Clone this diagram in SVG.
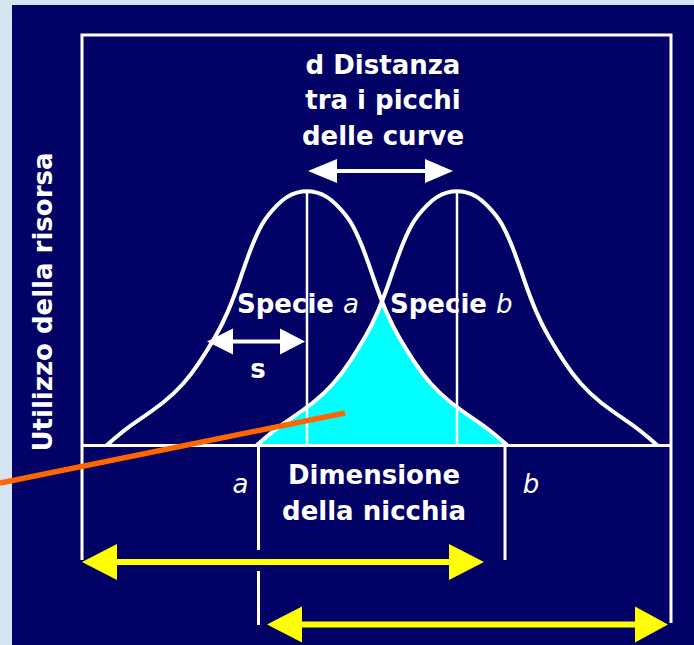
<svg xmlns="http://www.w3.org/2000/svg" width="694" height="645" viewBox="0 0 694 645">
<style>
.t{font-family:"DejaVu Sans",Verdana,sans-serif;font-weight:bold;font-size:26px;fill:#fff}
.it{font-style:italic;font-weight:normal}
.ln{stroke:#fff;stroke-width:3;fill:none}
.thin{stroke:#fff;stroke-width:2.5;fill:none}
.curve{stroke:#fff;stroke-width:4;fill:none;stroke-linejoin:round;stroke-linecap:round}
.wa{fill:#fff}
.ya{fill:#ffff00}
.ys{stroke:#ffff00;stroke-width:6;fill:none}
.ws{stroke:#fff;stroke-width:4;fill:none}
</style>
<defs>
<path id="bell" d="M107,445 Q124,429.7 137.5,420.8 Q151,411.9 162.5,403 Q174,394 183,383.8 Q192,373.6 199.5,362.1 Q207,350.7 214.5,337.9 Q222,325.2 228,311.1 Q234,297.1 240.5,278 Q247,258.8 252,246.1 Q257,233.3 262,224.4 Q267,215.5 277,205.3 Q287,195.1 297,192.6 Q307,190 317,192.6 Q327,195.1 337,205.3 Q347,215.5 352,224.4 Q357,233.3 362,246.1 Q367,258.8 373.5,278 Q380,297.1 386,311.1 Q392,325.2 399.5,337.9 Q407,350.7 414.5,362.1 Q422,373.6 431,383.8 Q440,394 451.5,403 Q463,411.9 476.5,420.8 Q490,429.7 507,445"/>
</defs>
<rect width="694" height="645" fill="#d6e3f0"/>
<rect x="12" y="5" width="682" height="640" fill="#020266"/>

<g id="overlap">
<path fill="#00ffff" d="M257,445 Q274,429.7 287.5,420.8 Q301,411.9 312.5,403 Q324,394 333,383.8 Q342,373.6 349.5,362.1 Q357,350.7 364.5,337.9 Q372,325.2 378,311.1 L382,301.6 L386,311.1 Q392,325.2 399.5,337.9 Q407,350.7 414.5,362.1 Q422,373.6 431,383.8 Q440,394 451.5,403 Q463,411.9 476.5,420.8 Q490,429.7 507,445 Z"/>
</g>

<g id="frame">
<path class="ln" d="M82,560 V35 H671 V623"/>
<path class="ln" d="M82,445.5 H671"/>
</g>

<g id="curve-a">
<use href="#bell" class="curve"/>
<path class="thin" d="M307,190 V445"/>
</g>
<g id="curve-b">
<use href="#bell" class="curve" x="150"/>
<path class="thin" d="M457,191 V445"/>
</g>

<g id="connectors">
<path class="ln" d="M258.5,445 V550 M258.5,571 V625"/>
<path class="ln" d="M505,445 V560"/>
<path class="ws" d="M330,171 H432"/>
<polygon class="wa" points="308,171 337,159 337,183"/>
<polygon class="wa" points="453,171 425,159 425,183"/>
<path class="ws" d="M228,341.5 H285"/>
<polygon class="wa" points="207,341.5 233,328.5 233,354.5"/>
<polygon class="wa" points="305,341.5 280,328.5 280,354.5"/>
<path class="ys" d="M110,562 H455"/>
<polygon class="ya" points="82,562 117,544 117,580"/>
<polygon class="ya" points="484,562 449,544 449,580"/>
<path class="ys" d="M295,624.5 H640" stroke-width="5.5"/>
<polygon class="ya" points="267,624.5 302,606.5 302,642.5"/>
<polygon class="ya" points="668,624.5 635,606.5 635,642.5"/>
<path d="M0,483 L345,413" stroke="#ff6600" stroke-width="5.5" fill="none"/>
</g>

<g id="label-d">
<text class="t" x="383" y="74" text-anchor="middle">d Distanza</text>
<text class="t" x="383" y="109" text-anchor="middle">tra i picchi</text>
<text class="t" x="383" y="145" text-anchor="middle">delle curve</text>
</g>
<g id="label-species">
<text class="t" x="237" y="313">Specie <tspan class="it">a</tspan></text>
<text class="t" x="390" y="313">Specie <tspan class="it">b</tspan></text>
<text class="t" x="258" y="378" text-anchor="middle">s</text>
</g>
<g id="label-niche">
<text class="t" x="374" y="484" text-anchor="middle">Dimensione</text>
<text class="t" x="374" y="520" text-anchor="middle">della nicchia</text>
<text class="t it" x="240.5" y="493" text-anchor="middle">a</text>
<text class="t it" x="531" y="493" text-anchor="middle">b</text>
</g>
<g id="label-axis">
<text class="t" transform="translate(52,302) rotate(-90)" text-anchor="middle">Utilizzo della risorsa</text>
</g>
</svg>
